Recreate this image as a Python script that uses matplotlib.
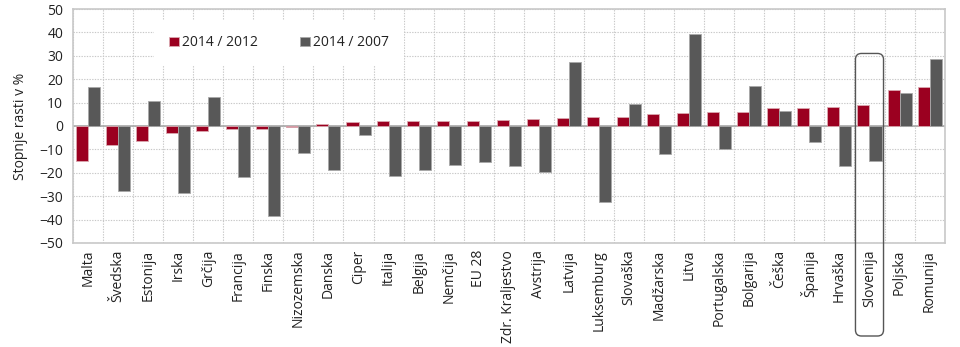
import matplotlib.pyplot as plt
import numpy as np
from matplotlib.patches import FancyBboxPatch
from matplotlib.transforms import IdentityTransform

plt.rcParams['font.family'] = ['Open Sans', 'DejaVu Sans']

# Data
countries = ['Malta', 'Švedska', 'Estonija', 'Irska', 'Grčija', 'Francija', 'Finska',
             'Nizozemska', 'Danska', 'Ciper', 'Italija', 'Belgija', 'Nemčija', 'EU 28',
             'Zdr. Kraljestvo', 'Avstrija', 'Latvija', 'Luksemburg', 'Slovaška',
             'Madžarska', 'Litva', 'Portugalska', 'Bolgarija', 'Češka', 'Španija',
             'Hrvaška', 'Slovenija', 'Poljska', 'Romunija']
g_2012 = [-15, -8, -6.5, -3, -2, -1.5, -1.5, -0.5, 1, 1.8, 2, 2.2, 2.2, 2.2, 2.5,
          3, 3.3, 4, 4, 5, 5.5, 6, 6, 7.5, 7.5, 8, 8.8, 15.5, 16.5]
g_2007 = [16.5, -28, 10.5, -28.5, 12.5, -22, -38.5, -11.5, -19, -4, -21.5, -19,
          -16.5, -15.5, -17, -19.5, 27.5, -32.5, 9.5, -12, 39.5, -10, 17, 6.5, -7,
          -17, -15, 14, 28.5]

red = '#9b0020'
grey = '#585858'

fig = plt.figure(figsize=(9.6, 3.47), dpi=100)
ax = fig.add_axes([0.076, 0.300, 0.908, 0.674])

x = np.arange(len(countries))
w = 0.4
ax.bar(x - w / 2, g_2012, w, color=red, edgecolor='#dba8b0', linewidth=0.6,
       label='2014 / 2012', zorder=3)
ax.bar(x + w / 2, g_2007, w, color=grey, edgecolor='#a8a8a8', linewidth=0.6,
       label='2014 / 2007', zorder=3)

ax.set_xlim(-0.5, len(countries) - 0.5)
ax.set_ylim(-50, 50)
ax.set_yticks(range(-50, 51, 10))
ax.set_xticks(x)
ax.set_xticklabels(countries, rotation=90, fontsize=10, color='#222222')
ax.tick_params(axis='y', labelsize=10, colors='#222222', length=0, pad=7)
ax.tick_params(axis='x', length=0, pad=5)

# grid
ax.set_xticks(np.arange(-0.5, len(countries), 1), minor=True)
ax.tick_params(axis='x', which='minor', length=0)
ax.grid(True, which='minor', axis='x', color='#c8c8c8', linestyle=(0, (1.2, 1.2)), linewidth=0.8)
ax.grid(True, which='major', axis='y', color='#c8c8c8', linestyle=(0, (1.2, 1.2)), linewidth=0.8)
ax.set_axisbelow(True)
ax.axhline(0, color='#a8a8a8', linewidth=1.2, zorder=2)
for s in ax.spines.values():
    s.set_color('#c8c8c8')
    s.set_linewidth(1.2)

ax.set_ylabel('Stopnje rasti v %', fontsize=10, color='#222222', labelpad=8)

leg = ax.legend(loc='center left', bbox_to_anchor=(0.085, 0.855), ncol=2, fontsize=10,
                frameon=True, facecolor='white', edgecolor='none', framealpha=1,
                handlelength=0.7, handleheight=0.7, handletextpad=0.25,
                columnspacing=3.0, borderpad=1.1, fancybox=False)
for t in leg.get_texts():
    t.set_color('#222222')
leg.set_zorder(4)

# rounded box around Slovenija
fig.canvas.draw()
idx = countries.index('Slovenija')
x0, y0 = ax.transData.transform((idx - 0.5, 31))
x1, _ = ax.transData.transform((idx + 0.5, 31))
ybot = 11
box = FancyBboxPatch((x0 + 1, ybot), x1 - x0 - 2, y0 - ybot,
                     boxstyle='round,pad=0,rounding_size=6',
                     transform=IdentityTransform(), fill=False,
                     edgecolor='#555555', linewidth=1.0, clip_on=False, zorder=5)
fig.patches.append(box)

fig.savefig('out.png', dpi=100)
